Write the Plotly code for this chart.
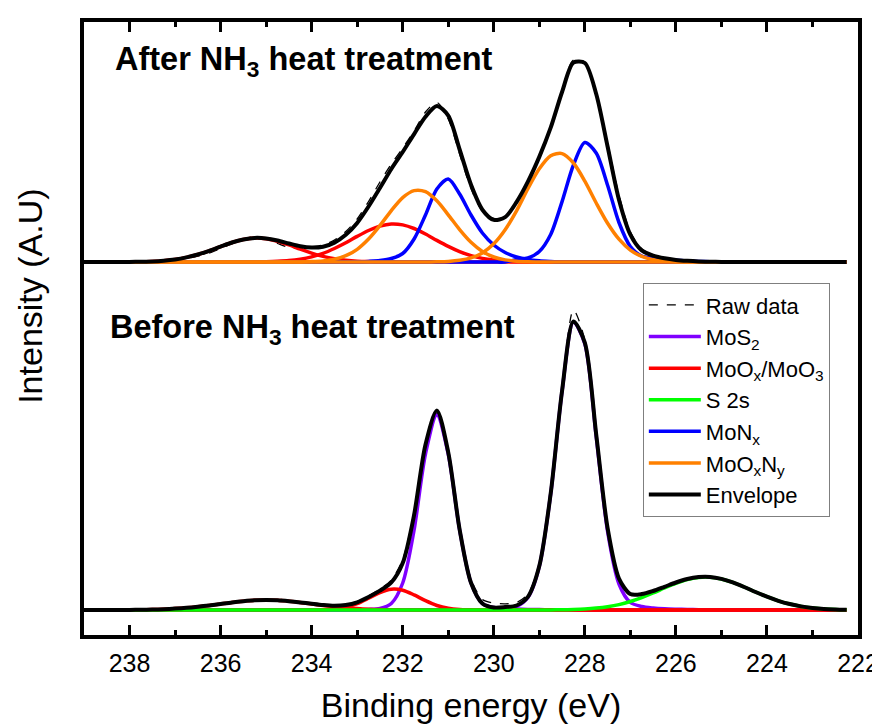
import plotly.graph_objects as go

# ---------------- data ----------------
binding_energy = [239.0, 238.75, 238.5, 238.25, 238.0, 237.75, 237.5, 237.25, 237.0, 236.75,
                  236.5, 236.25, 236.0, 235.75, 235.5, 235.25, 235.0, 234.75, 234.5, 234.25,
                  234.0, 233.75, 233.5, 233.25, 233.0, 232.75, 232.5, 232.25, 232.0, 231.75,
                  231.5, 231.25, 231.0, 230.75, 230.5, 230.25, 230.0, 229.75, 229.5, 229.25,
                  229.0, 228.75, 228.5, 228.25, 228.0, 227.75, 227.5, 227.25, 227.0, 226.75,
                  226.5, 226.25, 226.0, 225.75, 225.5, 225.25, 225.0, 224.75, 224.5, 224.25,
                  224.0, 223.75, 223.5, 223.25, 223.0, 222.75, 222.5, 222.25]

# ----- After NH3 heat treatment -----
after_raw = [1.0, 0.5, -0.5, 0.8, 0.2, -0.3, 1.2, 0.4, 1.8, 3.5,
             5.8, 9.0, 13.5, 18.2, 22.8, 25.5, 23.0, 18.5, 14.5, 13.5,
             15.2, 17.0, 22.0, 30.5, 43.0, 60.5, 80.0, 98.0, 114.0, 131.0,
             150.0, 159.5, 143.0, 108.0, 73.5, 51.0, 43.5, 46.0, 60.5, 81.5,
             106.0, 136.0, 172.0, 202.0, 200.0, 168.0, 119.0, 67.0, 30.0, 13.0,
             6.5, 3.0, 2.5, 0.8, 1.2, 0.2, 0.6, -0.3, 0.5, 0.1,
             0.7, -0.2, 0.4, 0.0, 0.5, -0.3, 0.2, 0.1]
after_moox_a = [0, 0, 0, 0, 0.1, 0.3, 0.6, 1.3, 2.5, 4.6,
                7.5, 11.2, 15.4, 19.5, 22.5, 24.0, 23.3, 20.8, 17.1, 12.8,
                8.9, 5.6, 3.2, 1.7, 0.8, 0.4, 0.2, 0.1, 0, 0,
                0, 0, 0, 0, 0, 0, 0, 0, 0, 0,
                0, 0, 0, 0, 0, 0, 0, 0, 0, 0,
                0, 0, 0, 0, 0, 0, 0, 0, 0, 0,
                0, 0, 0, 0, 0, 0, 0, 0]
after_moox_b = [0, 0, 0, 0, 0, 0, 0, 0, 0, 0,
                0, 0, 0, 0, 0, 0.1, 0.3, 0.7, 1.4, 2.8,
                5.1, 8.6, 13.5, 19.2, 25.6, 31.5, 35.9, 38.0, 37.1, 33.5,
                28.0, 21.6, 15.6, 10.4, 6.4, 3.6, 1.9, 0.9, 0.4, 0.2,
                0.1, 0, 0, 0, 0, 0, 0, 0, 0, 0,
                0, 0, 0, 0, 0, 0, 0, 0, 0, 0,
                0, 0, 0, 0, 0, 0, 0, 0]
after_monx_a = [0, 0, 0, 0, 0, 0, 0, 0, 0, 0,
                0, 0, 0, 0, 0, 0, 0, 0, 0, 0,
                0, 0, 0, 0, 0, 0.6, 1.5, 3.5, 8.5, 23.0,
                47.0, 73.0, 83.0, 68.0, 47.0, 29.0, 17.0, 9.5, 5.0, 2.5,
                1.2, 0.5, 0, 0, 0, 0, 0, 0, 0, 0,
                0, 0, 0, 0, 0, 0, 0, 0, 0, 0,
                0, 0, 0, 0, 0, 0, 0, 0]
after_monx_b = [0, 0, 0, 0, 0, 0, 0, 0, 0, 0,
                0, 0, 0, 0, 0, 0, 0, 0, 0, 0,
                0, 0, 0, 0, 0, 0, 0, 0, 0, 0,
                0, 0, 0, 0, 0, 0, 0, 0, 2.5, 4.0,
                10.5, 27.5, 60.4, 97.0, 119.5, 109.0, 76.8, 39.5, 15.5, 6.0,
                4.0, 2.8, 1.8, 1.1, 0.6, 0.3, 0.1, 0, 0, 0,
                0, 0, 0, 0, 0, 0, 0, 0]
after_mooxny_a = [0, 0, 0, 0, 0, 0, 0, 0, 0, 0,
                  0, 0, 0, 0, 0, 0, 0, 0, 0, 0.1,
                  0.4, 1.1, 2.7, 6.3, 12.7, 23.0, 36.4, 51.4, 64.4, 71.4,
                  70.3, 61.2, 47.2, 32.4, 19.7, 10.6, 5.0, 2.1, 0.8, 0.3,
                  0.1, 0, 0, 0, 0, 0, 0, 0, 0, 0,
                  0, 0, 0, 0, 0, 0, 0, 0, 0, 0,
                  0, 0, 0, 0, 0, 0, 0, 0]
after_mooxny_b = [0, 0, 0, 0, 0, 0, 0, 0, 0, 0,
                  0, 0, 0, 0, 0, 0, 0, 0, 0, 0,
                  0, 0, 0, 0, 0, 0, 0, 0, 0, 0,
                  0, 0.2, 0.6, 1.7, 4.1, 9.1, 18.2, 32.3, 51.2, 73.3,
                  93.2, 106.3, 108.4, 99.0, 80.9, 59.0, 38.7, 22.8, 11.9, 5.6,
                  2.3, 0.9, 0.3, 0.1, 0, 0, 0, 0, 0, 0,
                  0, 0, 0, 0, 0, 0, 0, 0]
after_envelope = [0, 0, 0, 0, 0.1, 0.3, 0.6, 1.3, 2.5, 4.6,
                  7.5, 11.2, 15.4, 19.5, 22.5, 24.1, 23.6, 21.5, 18.5, 15.7,
                  14.4, 15.3, 19.4, 27.2, 39.1, 55.5, 74.0, 93.0, 110.0, 127.9,
                  145.3, 156.0, 146.4, 112.5, 77.2, 52.3, 42.1, 44.8, 59.9, 80.3,
                  105.1, 134.3, 170.0, 199.5, 199.0, 168.0, 115.5, 62.3, 27.4, 11.6,
                  6.3, 3.7, 2.1, 1.2, 0.6, 0.3, 0.1, 0, 0, 0,
                  0, 0, 0, 0, 0, 0, 0, 0]

# ----- Before NH3 heat treatment -----
before_raw = [0.5, -0.3, 0.4, 0.9, 0.0, 0.6, 1.1, 0.5, 1.9, 2.6,
              3.0, 5.2, 6.8, 7.2, 9.6, 10.5, 9.4, 10.8, 9.5, 8.3,
              6.0, 5.8, 4.6, 5.8, 8.5, 14.2, 21.0, 30.0, 50.5, 98.0,
              163.0, 197.0, 160.5, 84.0, 31.0, 10.5, 7.0, 6.2, 7.5, 16.0,
              46.0, 117.5, 220.0, 300.0, 270.0, 172.0, 80.0, 32.5, 15.2, 16.8,
              18.6, 23.9, 27.0, 31.5, 33.4, 32.6, 31.6, 27.2, 23.5, 17.6,
              13.8, 8.9, 6.4, 3.3, 2.5, 0.9, 0.8, 0.1]
before_mos2_a = [0, 0, 0, 0, 0, 0, 0, 0, 0, 0,
                 0, 0, 0, 0, 0, 0, 0, 0, 0, 0,
                 0, 0, 0, 0, 0, 0.5, 1.5, 6.5, 27.0, 80.0,
                 156.0, 195.0, 156.0, 80.0, 27.0, 6.5, 2.5, 1.5, 1.0, 0.6,
                 0.4, 0.3, 0.2, 0.1, 0, 0, 0, 0, 0, 0,
                 0, 0, 0, 0, 0, 0, 0, 0, 0, 0,
                 0, 0, 0, 0, 0, 0, 0, 0]
before_mos2_b = [0, 0, 0, 0, 0, 0, 0, 0, 0, 0,
                 0, 0, 0, 0, 0, 0, 0, 0, 0, 0,
                 0, 0, 0, 0, 0, 0, 0, 0, 0, 0,
                 0, 0, 0, 0, 0, 0, 0, 1.5, 3.5, 12.5,
                 43.5, 116.0, 218.7, 288.0, 266.3, 173.5, 78.6, 26.0, 7.5, 3.5,
                 2.0, 1.2, 0.8, 0.5, 0.3, 0.2, 0.1, 0, 0, 0,
                 0, 0, 0, 0, 0, 0, 0, 0]
before_moox_a = [0, 0, 0, 0, 0.1, 0.2, 0.4, 0.8, 1.4, 2.2,
                 3.3, 4.6, 6.1, 7.6, 8.8, 9.7, 10.0, 9.7, 8.8, 7.6,
                 6.1, 4.6, 3.3, 2.2, 1.4, 0.8, 0.4, 0.2, 0.1, 0,
                 0, 0, 0, 0, 0, 0, 0, 0, 0, 0,
                 0, 0, 0, 0, 0, 0, 0, 0, 0, 0,
                 0, 0, 0, 0, 0, 0, 0, 0, 0, 0,
                 0, 0, 0, 0, 0, 0, 0, 0]
before_moox_b = [0, 0, 0, 0, 0, 0, 0, 0, 0, 0,
                 0, 0, 0, 0, 0, 0, 0, 0, 0, 0,
                 0.1, 0.3, 0.9, 2.7, 6.3, 11.7, 17.5, 20.8, 19.8, 15.1,
                 9.3, 4.5, 1.7, 0.5, 0.2, 0, 0, 0, 0, 0,
                 0, 0, 0, 0, 0, 0, 0, 0, 0, 0,
                 0, 0, 0, 0, 0, 0, 0, 0, 0, 0,
                 0, 0, 0, 0, 0, 0, 0, 0]
before_s2s = [0, 0, 0, 0, 0, 0, 0, 0, 0, 0,
              0, 0, 0, 0, 0, 0, 0, 0, 0, 0,
              0, 0, 0, 0, 0, 0, 0, 0, 0, 0,
              0, 0, 0, 0, 0, 0, 0, 0, 0, 0,
              0, 0.1, 0.2, 0.5, 1.0, 1.9, 3.3, 5.4, 8.5, 12.4,
              17.0, 22.0, 26.7, 30.5, 32.6, 32.8, 31.0, 27.6, 23.0, 18.0,
              13.3, 9.2, 6.0, 3.6, 2.1, 1.1, 0.6, 0.3]
before_envelope = [0, 0, 0, 0, 0.1, 0.2, 0.4, 0.8, 1.4, 2.2,
                   3.3, 4.6, 6.1, 7.6, 8.8, 9.7, 10.0, 9.7, 8.8, 7.6,
                   6.2, 4.9, 4.2, 4.9, 7.7, 13.0, 19.4, 27.5, 46.9, 95.1,
                   165.3, 199.5, 157.7, 80.5, 27.2, 6.5, 2.5, 3.0, 4.5, 13.1,
                   43.9, 116.4, 219.1, 288.6, 267.3, 175.4, 81.9, 31.4, 16.0, 15.9,
                   19.0, 23.2, 27.5, 31.0, 32.9, 33.0, 31.1, 27.6, 23.0, 18.0,
                   13.3, 9.2, 6.0, 3.6, 2.1, 1.1, 0.6, 0.3]

x_tick_values = [238, 236, 234, 232, 230, 228, 226, 224, 222]

# ---------------- styling / layout constants ----------------
UPPER_OFFSET = 373
LOWER_OFFSET = 25
FONT = "Arial, Liberation Sans, sans-serif"
C_PURPLE = "#8000FF"
C_RED = "#FF0000"
C_GREEN = "#00FF00"
C_BLUE = "#0000FF"
C_ORANGE = "#FF8000"
C_BLACK = "#000000"

fig = go.Figure()


def add_curve(values, offset, color, width, name, legend=False, rank=None, dash=None):
    fig.add_trace(go.Scatter(
        x=binding_energy,
        y=[v + offset for v in values],
        mode="lines",
        line=dict(color=color, width=width, shape="spline", smoothing=0.8, dash=dash),
        name=name,
        legendgroup=name,
        showlegend=legend,
        legendrank=rank if rank is not None else 1000,
        hoverinfo="skip",
    ))


# raw data (drawn first)
add_curve(before_raw, LOWER_OFFSET, C_BLACK, 1.3, "Raw data", True, 1, "dash")
add_curve(after_raw, UPPER_OFFSET, C_BLACK, 1.3, "Raw data", dash="dash")

# before panel components
add_curve(before_mos2_a, LOWER_OFFSET, C_PURPLE, 3.5, "MoS<sub>2</sub>", True, 2)
add_curve(before_mos2_b, LOWER_OFFSET, C_PURPLE, 3.5, "MoS<sub>2</sub>")
add_curve(before_moox_a, LOWER_OFFSET, C_RED, 3.5, "MoO<sub>x</sub>/MoO<sub>3</sub>", True, 3)
add_curve(before_moox_b, LOWER_OFFSET, C_RED, 3.5, "MoO<sub>x</sub>/MoO<sub>3</sub>")
add_curve(before_s2s, LOWER_OFFSET, C_GREEN, 3.5, "S 2s", True, 4)

# after panel components
add_curve(after_moox_a, UPPER_OFFSET, C_RED, 3.5, "MoO<sub>x</sub>/MoO<sub>3</sub>")
add_curve(after_moox_b, UPPER_OFFSET, C_RED, 3.5, "MoO<sub>x</sub>/MoO<sub>3</sub>")
add_curve(after_monx_a, UPPER_OFFSET, C_BLUE, 3.5, "MoN<sub>x</sub>", True, 5)
add_curve(after_monx_b, UPPER_OFFSET, C_BLUE, 3.5, "MoN<sub>x</sub>")
add_curve(after_mooxny_a, UPPER_OFFSET, C_ORANGE, 3.5, "MoO<sub>x</sub>N<sub>y</sub>", True, 6)
add_curve(after_mooxny_b, UPPER_OFFSET, C_ORANGE, 3.5, "MoO<sub>x</sub>N<sub>y</sub>")

# envelopes on top
add_curve(before_envelope, LOWER_OFFSET, C_BLACK, 4, "Envelope", True, 7)
add_curve(after_envelope, UPPER_OFFSET, C_BLACK, 4, "Envelope")

# the page body adds an 8 px margin, so the figure is 8 px smaller on each side
fig.update_layout(
    width=872, height=716,
    margin=dict(l=76, r=22, t=14, b=89, autoexpand=False),
    paper_bgcolor="white", plot_bgcolor="white",
    font=dict(family=FONT, color="black"),
    showlegend=True,
    legend=dict(
        x=0.722, y=0.574, xanchor="left", yanchor="top",
        bgcolor="white", bordercolor="#7f7f7f", borderwidth=1,
        font=dict(family=FONT, size=22, color="black"),
        tracegroupgap=0, itemwidth=52,
    ),
    xaxis=dict(
        range=[239, 222], autorange=False,
        tickmode="array", tickvals=x_tick_values,
        ticks="inside", ticklen=10, tickwidth=3, tickcolor="black",
        minor=dict(dtick=1, ticks="inside", ticklen=5, tickwidth=3, tickcolor="black"),
        showline=True, linewidth=3.5, linecolor="black", mirror="allticks",
        showgrid=False, zeroline=False, automargin=False,
        tickfont=dict(family=FONT, size=25, color="black"),
        ticklabelstandoff=3,
        title=dict(text="Binding energy (eV)", font=dict(family=FONT, size=34, color="black"), standoff=18),
    ),
    yaxis=dict(
        range=[0, 613], autorange=False,
        showticklabels=False, ticks="",
        showline=True, linewidth=3.5, linecolor="black", mirror=True,
        showgrid=False, zeroline=False, automargin=False,
    ),
    annotations=[
        dict(text="<b>After NH<sub>3</sub> heat treatment</b>", xref="paper", yref="paper",
             x=0.0375, y=0.935, xanchor="left", yanchor="middle", showarrow=False,
             font=dict(family=FONT, size=32.5, color="black")),
        dict(text="<b>Before NH<sub>3</sub> heat treatment</b>", xref="paper", yref="paper",
             x=0.031, y=0.4976, xanchor="left", yanchor="middle", showarrow=False,
             font=dict(family=FONT, size=32.5, color="black")),
        dict(text="Intensity (A.U)", xref="paper", yref="paper",
             x=-0.07, y=0.553, xanchor="center", yanchor="middle", textangle=-90,
             showarrow=False, font=dict(family=FONT, size=34, color="black")),
    ],
)

fig.write_html("out.html")
